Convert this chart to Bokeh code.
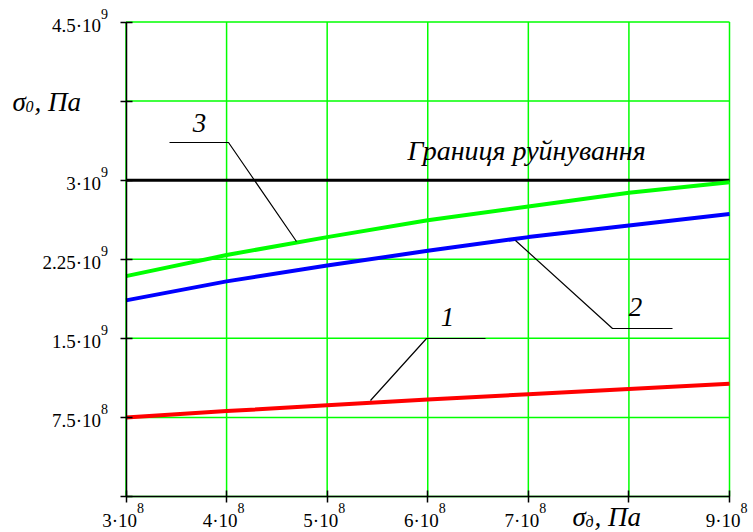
from bokeh.plotting import figure
from bokeh.models import Range1d, FixedTicker, LinearAxis
from bokeh.core.properties import value
from bokeh.embed import file_html
from bokeh.resources import INLINE

# ---------------- data ----------------
x_vals = [3e8, 4e8, 5e8, 6e8, 7e8, 8e8, 9e8]
curve1 = [7.5e8, 8.1e8, 8.65e8, 9.2e8, 9.7e8, 1.02e9, 1.07e9]
curve2 = [1.86e9, 2.04e9, 2.19e9, 2.33e9, 2.46e9, 2.57e9, 2.68e9]
curve3 = [2.09e9, 2.29e9, 2.46e9, 2.62e9, 2.75e9, 2.88e9, 2.98e9]
limit_value = 3e9
limit_label = "Границя руйнування"

x_ticks = [3e8, 4e8, 5e8, 6e8, 7e8, 8e8, 9e8]
x_tick_mant = ["3·10", "4·10", "5·10", "6·10", "7·10", "", "9·10"]
x_tick_exp = ["8", "8", "8", "8", "8", "", "8"]
y_ticks = [0, 7.5e8, 1.5e9, 2.25e9, 3e9, 3.75e9, 4.5e9]
y_tick_mant = ["", "7.5·10", "1.5·10", "2.25·10", "3·10", "", "4.5·10"]
y_tick_exp = ["", "8", "9", "9", "9", "", "9"]

# ---------------- page geometry ----------------
W, H = 753, 532
FL, FR, FT, FB = 125.5, 729.0, 21.5, 496.0   # plot area in page pixels
X0, X1 = x_ticks[0], x_ticks[-1]
Y0, Y1 = y_ticks[0], y_ticks[-1]
sx = (FR - FL) / (X1 - X0)
sy = (FB - FT) / (Y1 - Y0)


def px(xp):
    return X0 + (xp - FL) / sx


def py(yp):
    return Y0 + (FB - yp) / sy


# annotation placement (from page pixels)
leader1 = [(370, 400), (426, 338), (485, 338)]
leader2 = [(515, 240), (612, 328), (672, 328)]
leader3 = [(169, 142), (228, 142), (296, 241)]
num_labels = ["1", "2", "3"]
num_pos = [(447, 316), (635, 306), (199, 122)]
limit_label_pos = (407, 150)
ytitle_pos = (12, 101)
xtitle_pos = (572, 516)

SERIF = "Times New Roman"

p = figure(width=W, height=H, output_backend="svg", toolbar_location=None,
           x_range=Range1d(X0 - FL / sx, X1 + (W - FR) / sx),
           y_range=Range1d(Y0 - (H - FB) / sy, Y1 + FT / sy),
           x_axis_type=None, y_axis_type=None, min_border=0)
p.min_border_left = p.min_border_right = p.min_border_top = p.min_border_bottom = 0
p.outline_line_color = None
p.background_fill_color = "white"
p.border_fill_color = "white"

# grid
GREEN = "#00ff00"
p.segment(x0=x_ticks, y0=[Y0] * len(x_ticks), x1=x_ticks, y1=[Y1] * len(x_ticks),
          line_color=GREEN, line_width=1.5)
p.segment(x0=[X0] * len(y_ticks), y0=y_ticks, x1=[X1] * len(y_ticks), y1=y_ticks,
          line_color=GREEN, line_width=1.5)

# axes at fixed location
yax = LinearAxis(fixed_location=X0, bounds=(Y0, Y1), ticker=FixedTicker(ticks=y_ticks),
                 major_label_overrides={t: "" for t in y_ticks})
xax = LinearAxis(fixed_location=Y0, bounds=(X0, X1), ticker=FixedTicker(ticks=x_ticks),
                 major_label_overrides={t: "" for t in x_ticks})
for ax in (xax, yax):
    ax.axis_line_color = "black"
    ax.axis_line_width = 1.5
    ax.major_tick_line_color = "black"
    ax.major_tick_line_width = 1.5
    ax.major_tick_in = 6
    ax.major_tick_out = 6
    ax.minor_tick_line_color = None
    ax.major_label_text_font_size = "1px"
p.add_layout(yax, "left")
p.add_layout(xax, "below")

# limit line
p.line([X0, X1], [limit_value, limit_value], line_color="black", line_width=3)

# curves
p.line(x_vals, curve1, line_color="#ff0000", line_width=4)
p.line(x_vals, curve2, line_color="#0000ff", line_width=4)
p.line(x_vals, curve3, line_color="#00ff00", line_width=4)

# leader lines
for ld in (leader1, leader2, leader3):
    p.line([px(a) for a, b in ld], [py(b) for a, b in ld], line_color="black", line_width=1.2)

p.text(x=[px(a) for a, b in num_pos], y=[py(b) for a, b in num_pos], text=num_labels,
       text_font=value(SERIF), text_font_style="italic", text_font_size="27px",
       text_align="center", text_baseline="middle", text_color="black")

p.text(x=[px(limit_label_pos[0])], y=[py(limit_label_pos[1])], text=[limit_label],
       text_font=value(SERIF), text_font_style="italic", text_font_size="28px",
       text_align="left", text_baseline="middle", text_color="black")

# tick labels with superscript exponents
ym = [(t, m, e) for t, m, e in zip(y_ticks, y_tick_mant, y_tick_exp) if m]
p.text(x=[X0] * len(ym), y=[t for t, m, e in ym], text=[m for t, m, e in ym],
       x_offset=-25, y_offset=3, text_font=value(SERIF), text_font_size="19px",
       text_align="right", text_baseline="middle", text_color="black")
p.text(x=[X0] * len(ym), y=[t for t, m, e in ym], text=[e for t, m, e in ym],
       x_offset=-25, y_offset=-8, text_font=value(SERIF), text_font_size="14px",
       text_align="left", text_baseline="middle", text_color="black")

xm = [(t, m, e) for t, m, e in zip(x_ticks, x_tick_mant, x_tick_exp) if m]
p.text(x=[t for t, m, e in xm], y=[Y0] * len(xm), text=[m for t, m, e in xm],
       x_offset=11, y_offset=24, text_font=value(SERIF), text_font_size="19px",
       text_align="right", text_baseline="middle", text_color="black")
p.text(x=[t for t, m, e in xm], y=[Y0] * len(xm), text=[e for t, m, e in xm],
       x_offset=11, y_offset=11, text_font=value(SERIF), text_font_size="14px",
       text_align="left", text_baseline="middle", text_color="black")


# axis titles
def title(pos, sub):
    x, y = px(pos[0]), py(pos[1])
    p.text(x=[x], y=[y], text=["σ"], text_font=value(SERIF), text_font_style="italic",
           text_font_size="27px", text_align="left", text_baseline="middle", text_color="black")
    p.text(x=[x], y=[y], text=[sub], x_offset=13, y_offset=5, text_font=value(SERIF),
           text_font_style="italic", text_font_size="16px", text_align="left",
           text_baseline="middle", text_color="black")
    p.text(x=[x], y=[y], text=[", Па"], x_offset=22, text_font=value(SERIF),
           text_font_style="italic", text_font_size="27px", text_align="left",
           text_baseline="middle", text_color="black")


title(ytitle_pos, "0")
title(xtitle_pos, "д")

open("out.html", "w").write(file_html(p, INLINE))
